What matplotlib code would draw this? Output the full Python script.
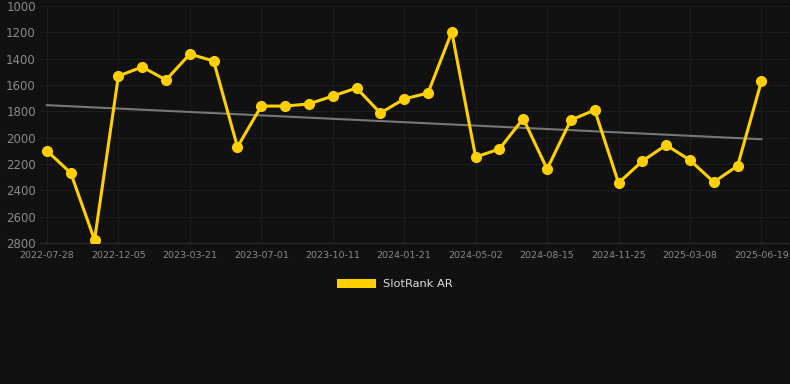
import numpy as np
import matplotlib
matplotlib.use("Agg")
import matplotlib.pyplot as plt
from matplotlib.patches import Patch

# ranks (lower = better, axis is inverted)
ranks = [2100, 2268, 2777, 1532, 1463, 1562, 1365, 1418, 2071, 1760,
         1760, 1744, 1684, 1623, 1813, 1706, 1661, 1197, 2147, 2086,
         1855, 2238, 1866, 1790, 2344, 2178, 2056, 2171, 2337, 2214,
         1571]
tick_labels = ['2022-07-28', '2022-12-05', '2023-03-21', '2023-07-01',
               '2023-10-11', '2024-01-21', '2024-05-02', '2024-08-15',
               '2024-11-25', '2025-03-08', '2025-06-19']
series_name = 'SlotRank AR'

bg = '#111111'
gold = '#ffd000'

x = np.arange(len(ranks))
coef = np.polyfit(x, ranks, 1)
trend = np.polyval(coef, x[[0, -1]])

fig = plt.figure(figsize=(7.9, 3.84), dpi=100, facecolor=bg)
ax = fig.add_axes([40/790, 141/384, 750/790, 237/384], facecolor=bg)

ax.plot(x[[0, -1]], trend, color='#777777', lw=1.5, zorder=2)
ax.plot(x, ranks, color=gold, lw=2.2, marker='o', ms=7, zorder=3)

ax.set_ylim(2800, 1000)
ax.set_yticks(range(1000, 2801, 200))
ax.set_xlim(-0.29, 31.2)
ax.set_xticks(x[::3])
ax.set_xticklabels(tick_labels)

ax.grid(True, color='#1d1d1d', lw=0.8)
ax.set_axisbelow(True)
for s in ['top', 'right', 'left']:
    ax.spines[s].set_visible(False)
ax.spines['bottom'].set_color('#2a2a2a')

ax.tick_params(axis='y', length=0, labelsize=8.5, labelcolor='#8a8a8a', pad=3)
ax.tick_params(axis='x', length=0, labelsize=6.8, labelcolor='#8a8a8a', pad=6)

fig.legend(handles=[Patch(facecolor=gold, label=series_name)],
           loc='center', bbox_to_anchor=(0.5, 1 - 284/384), frameon=False,
           handlelength=3.4, handleheight=0.9, fontsize=8.2,
           labelcolor='#dddddd', handletextpad=0.6)

fig.savefig('out.png', dpi=100, facecolor=bg)
